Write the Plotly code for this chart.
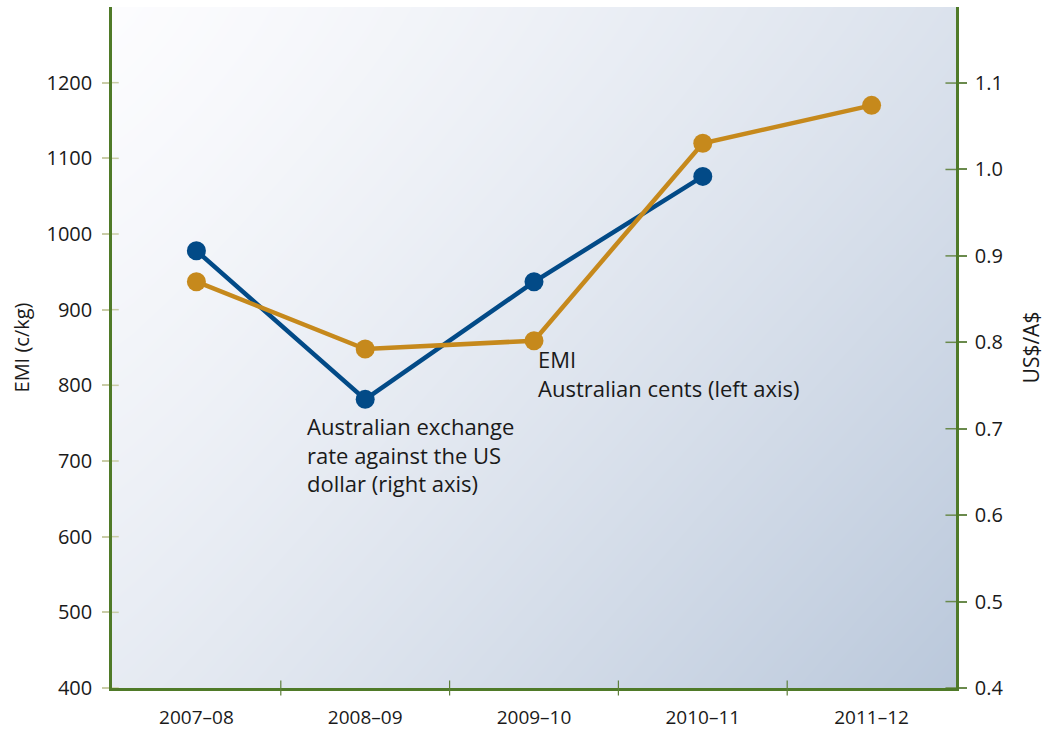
import numpy as np
import plotly.graph_objects as go

# ---- data ----
years = ["2007–08", "2008–09", "2009–10", "2010–11", "2011–12"]
emi_cents = [937, 848, 859, 1120, 1170]          # EMI, c/kg (left axis)
usd_per_aud = [0.906, 0.734, 0.870, 0.992]        # US$/A$ (right axis)
left_ticks = [400, 500, 600, 700, 800, 900, 1000, 1100, 1200]
right_ticks = [0.4, 0.5, 0.6, 0.7, 0.8, 0.9, 1.0, 1.1]

# ---- style ----
BLUE = "#024a87"
ORANGE = "#c6891c"
AXIS = "#4f7a28"
FONT = "Open Sans"
TXT = "#1a1a1a"

xpos = list(range(len(years)))
LEFT_RANGE = [400, 1300]
RIGHT_RANGE = [0.4, 1.188]
XR = [-0.5, len(years) - 0.5]

fig = go.Figure()

# gradient background (heatmap on primary axes)
n = 40
u = np.linspace(0, 1, n)            # left -> right
v = np.linspace(0, 1, n)            # bottom -> top
U, V = np.meshgrid(u, v)
D = 1 - V                           # 0 at top, 1 at bottom
Z = 0.5 * U ** 1.2 + 0.33 * D ** 1.2 + 0.17 * U * D
fig.add_trace(go.Heatmap(
    x=np.linspace(XR[0], XR[1], n), y=np.linspace(RIGHT_RANGE[0], RIGHT_RANGE[1], n),
    z=Z, zmin=0, zmax=1, zsmooth="best", showscale=False, hoverinfo="skip",
    colorscale=[[0, "#fcfcfe"], [1, "#bac8db"]], xaxis="x", yaxis="y"))

# exchange rate (right axis, primary)
fig.add_trace(go.Scatter(
    x=xpos[:len(usd_per_aud)], y=usd_per_aud, mode="lines+markers",
    line=dict(color=BLUE, width=4.5), marker=dict(color=BLUE, size=19),
    xaxis="x", yaxis="y", showlegend=False, cliponaxis=False))

# EMI (left axis, overlay)
fig.add_trace(go.Scatter(
    x=xpos, y=emi_cents, mode="lines+markers",
    line=dict(color=ORANGE, width=4.5), marker=dict(color=ORANGE, size=19),
    xaxis="x", yaxis="y2", showlegend=False, cliponaxis=False))

shapes = []
# x ticks crossing the axis at category boundaries
for b in [i + 0.5 for i in range(len(years) - 1)]:
    shapes.append(dict(type="line", xref="x", yref="paper", x0=b, x1=b,
                       y0=-0.011, y1=0.011, line=dict(color="#5d7f3a", width=1.2)))
# left ticks inside halves
for t in left_ticks:
    shapes.append(dict(type="line", xref="paper", yref="y2", x0=0, x1=0.008,
                       y0=t, y1=t, line=dict(color="#c9cca6", width=1.5)))
# right ticks inside halves
for t in right_ticks:
    shapes.append(dict(type="line", xref="paper", yref="y", x0=0.9875, x1=1,
                       y0=t, y1=t, line=dict(color="#6a8a4c", width=1.5)))

fig.update_layout(
    width=1048, height=731,
    margin=dict(l=112, r=92, t=7, b=43),
    paper_bgcolor="white", plot_bgcolor="white",
    font=dict(family=FONT, color=TXT),
    shapes=shapes,
    xaxis=dict(range=XR, tickvals=xpos, ticktext=years, showgrid=False, zeroline=False,
               ticks="", showline=True, linecolor=AXIS, linewidth=2.5, automargin=False,
               tickfont=dict(size=19, color=TXT), ticklabelstandoff=10, fixedrange=True),
    yaxis=dict(range=RIGHT_RANGE, side="right", tickvals=right_ticks, automargin=False,
               ticktext=[f"{t:.1f}" for t in right_ticks], showgrid=False, zeroline=False,
               ticks="outside", ticklen=8, tickwidth=1.5, tickcolor="#6a8a4c",
               showline=True, linecolor=AXIS, linewidth=2.5,
               tickfont=dict(size=20, color=TXT), ticklabelstandoff=4,
               title=dict(text="US$/A$", font=dict(size=21, color=TXT), standoff=22)),
    yaxis2=dict(range=LEFT_RANGE, side="left", overlaying="y", tickvals=left_ticks,
                showgrid=False, zeroline=False, automargin=False,
                ticks="outside", ticklen=7, tickwidth=1.5, tickcolor="#c9cca6",
                showline=True, linecolor=AXIS, linewidth=2.5,
                tickfont=dict(size=20, color=TXT), ticklabelstandoff=6,
                title=dict(text="EMI (c/kg)", font=dict(size=20, color=TXT), standoff=12)),
    annotations=[
        dict(text="Australian exchange<br>rate against the US<br>dollar (right axis)",
             xref="paper", yref="paper", x=(305 - 112) / 846, y=(688 - 409) / 681,
             xanchor="left", yanchor="top", align="left", showarrow=False,
             font=dict(size=22, color=TXT)),
        dict(text="EMI<br>Australian cents (left axis)",
             xref="paper", yref="paper", x=(537 - 112) / 846, y=(688 - 342) / 681,
             xanchor="left", yanchor="top", align="left", showarrow=False,
             font=dict(size=22, color=TXT)),
    ],
)

fig.write_html("out.html")
